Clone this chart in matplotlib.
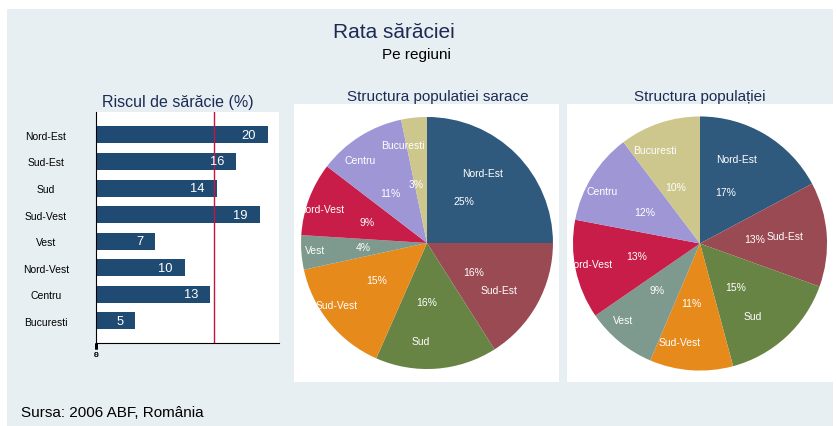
import matplotlib
matplotlib.use("Agg")
import matplotlib.pyplot as plt
from matplotlib.patches import Rectangle
from matplotlib.transforms import offset_copy

plt.rcParams['font.family'] = ['Liberation Sans', 'DejaVu Sans']

# data
regions = ["Nord-Est", "Sud-Est", "Sud", "Sud-Vest", "Vest", "Nord-Vest", "Centru", "Bucuresti"]
risk = [20.0, 16.3, 14.0, 19.0, 6.9, 10.3, 13.3, 4.6]
national_rate = 13.7
poor_share = [25.0, 16.0, 15.6, 15.0, 4.4, 9.4, 11.3, 3.3]
pop_share = [17.2, 13.3, 15.3, 10.6, 9.0, 12.6, 11.7, 10.3]

colors = ["#2F5A7E", "#9A4A52", "#688444", "#E68A1C",
          "#7E998E", "#C81D48", "#9F97D5", "#CDC78D"]
bar_color = "#1F4A72"
navy = "#1C2B55"
panel = "#E8EFF2"

W, H = 836, 427
fig = plt.figure(figsize=(W / 100, H / 100), dpi=100)
fig.patch.set_facecolor("white")


def fx(px):
    return px / W


def fy(py):
    return 1 - py / H


# light background panel
fig.add_artist(Rectangle((fx(7), 0), fx(833) - fx(7), fy(10), transform=fig.transFigure,
                         facecolor=panel, edgecolor="none", zorder=0))

fig.text(fx(394), fy(33), "Rata sărăciei", ha="center", va="center", fontsize=15, color=navy)
fig.text(fx(416), fy(55), "Pe regiuni", ha="center", va="center", fontsize=11, color="black")
fig.text(fx(21), fy(413), "Sursa: 2006 ABF, România", ha="left", va="center", fontsize=11, color="black")

# bar chart: poverty risk
ax = fig.add_axes([fx(95.7), fy(344), fx(279) - fx(95.7), fy(113) - fy(344)])
ax.set_facecolor("white")
ypos = list(range(len(regions)))
ax.barh(ypos, risk, height=0.64, color=bar_color)
for y, v in zip(ypos, risk):
    ax.annotate(f"{v:.0f}", (v, y), xytext=(-12, 0), textcoords="offset pixels",
                ha="right", va="center", color="white", fontsize=9.3)
ax.axvline(national_rate, color="#C8143F", lw=1)
ax.set_xlim(0, 21.24)
ax.set_ylim(7.83, -0.86)
ax.set_yticks(ypos)
ax.set_yticklabels(regions, ha="center", fontsize=7.5)
ax.tick_params(axis="y", length=0, pad=36)
ax.set_xticks([0.0, 0.05])
ax.set_xticklabels(["0", "8"], fontsize=6)
ax.tick_params(axis="x", length=4, width=2, pad=2)
for s in ["top", "right"]:
    ax.spines[s].set_visible(False)
fig.text(fx(178), fy(103), "Riscul de sărăcie (%)", ha="center", va="center", fontsize=11.5, color=navy)


def draw_pie(rect, values, xlim, ylim, title, title_x):
    a = fig.add_axes(rect)
    wedges, texts, autotexts = a.pie(
        values, labels=regions, colors=colors, startangle=90, counterclock=False,
        autopct="%.0f%%", pctdistance=0.47, labeldistance=0.78, frame=True,
        wedgeprops=dict(linewidth=0),
        textprops=dict(color="white", fontsize=7.5, ha="center", va="center"))
    for t in texts:
        t.set_transform(offset_copy(t.get_transform(), fig=fig, x=-14, y=0, units="dots"))
    for t in autotexts:
        t.set_transform(offset_copy(t.get_transform(), fig=fig, x=-5, y=0, units="dots"))
    a.set_aspect("auto")
    a.set_xlim(*xlim)
    a.set_ylim(*ylim)
    a.set_xticks([])
    a.set_yticks([])
    a.set_facecolor("white")
    for s in a.spines.values():
        s.set_visible(False)
    fig.text(fx(title_x), fy(97), title, ha="center", va="center", fontsize=11, color=navy)
    return a


draw_pie([fx(294), fy(383), fx(559) - fx(294), fy(105) - fy(383)], poor_share,
         (-1.056, 1.048), (-1.103, 1.103), "Structura populatiei sarace", 438)
draw_pie([fx(567), fy(383), fx(833) - fx(567), fy(105) - fy(383)], pop_share,
         (-1.047, 1.047), (-1.09, 1.098), "Structura populației", 700)

fig.savefig("out.png", dpi=100)
